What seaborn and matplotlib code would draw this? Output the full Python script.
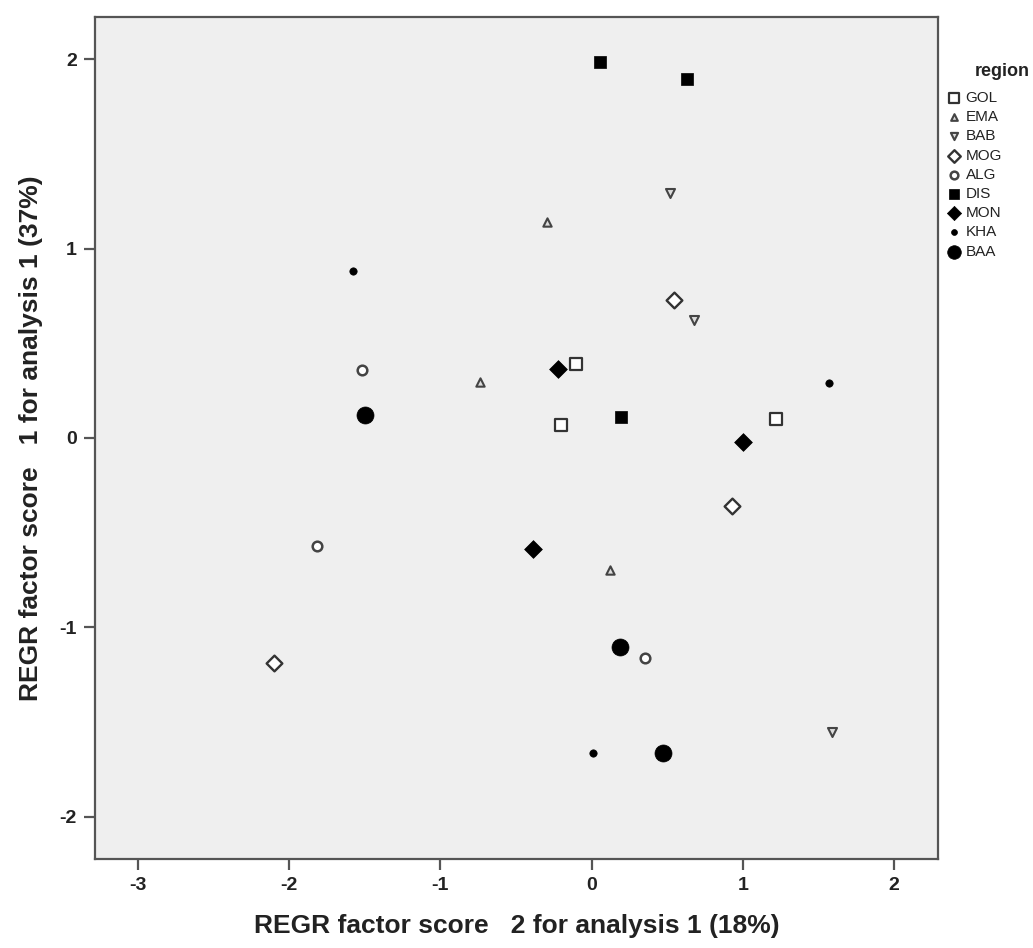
import matplotlib
matplotlib.use("Agg")
import matplotlib.pyplot as plt
import seaborn as sns
import pandas as pd

regions = ["GOL", "EMA", "BAB", "MOG", "ALG", "DIS", "MON", "KHA", "BAA"]
score2 = {
    "GOL": [-0.103, -0.20, 1.222],
    "EMA": [-0.295, -0.736, 0.122],
    "BAB": [0.519, 0.679, 1.592],
    "MOG": [0.547, 0.931, -2.099],
    "ALG": [-1.518, -1.814, 0.355],
    "DIS": [0.056, 0.630, 0.195],
    "MON": [-0.222, 0.999, -0.386],
    "KHA": [-1.580, 1.568, 0.011],
    "BAA": [-1.500, 0.190, 0.470],
}
score1 = {
    "GOL": [0.390, 0.069, 0.099],
    "EMA": [1.140, 0.296, -0.697],
    "BAB": [1.293, 0.623, -1.553],
    "MOG": [0.728, -0.357, -1.186],
    "ALG": [0.359, -0.568, -1.159],
    "DIS": [1.984, 1.894, 0.111],
    "MON": [0.364, -0.021, -0.587],
    "KHA": [0.883, 0.292, -1.664],
    "BAA": [0.121, -1.105, -1.664],
}
xticks = [-3, -2, -1, 0, 1, 2]
yticks = [-2, -1, 0, 1, 2]

rows = []
for r in regions:
    for a, b in zip(score2[r], score1[r]):
        rows.append({"region": r, "f2": a, "f1": b})
df = pd.DataFrame(rows)

styles = {
    "GOL": dict(marker="s", s=72, color="white", edgecolor="#333333", linewidth=1.6),
    "EMA": dict(marker="^", s=36, color="#dddddd", edgecolor="#444444", linewidth=1.5),
    "BAB": dict(marker="v", s=42, color="#dddddd", edgecolor="#444444", linewidth=1.5),
    "MOG": dict(marker="D", s=64, color="white", edgecolor="#333333", linewidth=1.7),
    "ALG": dict(marker="o", s=48, color="white", edgecolor="#444444", linewidth=1.8),
    "DIS": dict(marker="s", s=80, color="black", edgecolor="black", linewidth=0.5),
    "MON": dict(marker="D", s=82, color="black", edgecolor="black", linewidth=0.5),
    "KHA": dict(marker="o", s=28, color="black", edgecolor="black", linewidth=0.5),
    "BAA": dict(marker="o", s=150, color="black", edgecolor="black", linewidth=0.5),
}

sns.set_style("white")
plt.rcParams["font.family"] = ["Liberation Sans", "DejaVu Sans"]

fig = plt.figure(figsize=(10.33, 9.48), dpi=100)
ax = fig.add_axes([95 / 1033, 1 - 859 / 948, (938 - 95) / 1033, (859 - 17) / 948])
ax.set_facecolor("#efefef")

for r in regions:
    sub = df[df["region"] == r]
    sns.scatterplot(data=sub, x="f2", y="f1", ax=ax, label=r, legend=False, **styles[r])

ax.set_xlim(-3.284, 2.291)
ax.set_ylim(-2.222, 2.222)
ax.set_xticks(xticks)
ax.set_yticks(yticks)
ax.set_xticklabels([str(t) for t in xticks], fontweight="bold", fontsize=14)
ax.set_yticklabels([str(t) for t in yticks], fontweight="bold", fontsize=14)
for sp in ax.spines.values():
    sp.set_color("#555555")
    sp.set_linewidth(1.6)
ax.tick_params(axis="both", direction="out", length=8, width=1.6, color="#555555",
               bottom=True, left=True, top=False, right=False, pad=5, labelcolor="#222222")

ax.set_xlabel("REGR factor score   2 for analysis 1 (18%)", fontsize=19, fontweight="bold",
              color="#222222", labelpad=14)
ax.set_ylabel("REGR factor score   1 for analysis 1 (37%)", fontsize=19, fontweight="bold",
              color="#222222", labelpad=12)

fig.text(975 / 1033, 1 - 72 / 948, "region", fontsize=13, fontweight="bold",
         color="#222222", ha="left", va="center")
handles, labels = ax.get_legend_handles_labels()
leg = fig.legend(handles, labels, loc="upper left",
                 bbox_to_anchor=(948 / 1033, 1 - 91 / 948), bbox_transform=fig.transFigure,
                 frameon=False, fontsize=11, markerscale=0.8, handlelength=0.8,
                 handletextpad=0.35, labelspacing=0.34, borderpad=0, borderaxespad=0)
for t in leg.get_texts():
    t.set_color("#222222")

fig.savefig("out.png", dpi=100, facecolor="white")
